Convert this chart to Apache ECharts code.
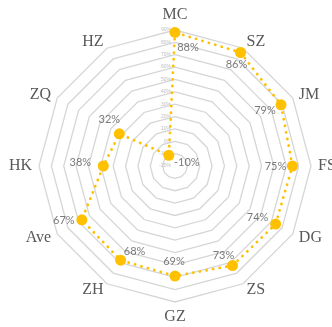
<!DOCTYPE html>
<html>
<head>
<meta charset="utf-8">
<script src="https://cdn.jsdelivr.net/npm/echarts@6/dist/echarts.min.js"></script>
<style>
  html, body { margin: 0; padding: 0; background: #ffffff; }
  #chart { width: 332px; height: 327px; }
</style>
</head>
<body>
<div id="chart"></div>
<script>
// Cities, clockwise from the top
const categories = ['MC', 'SZ', 'JM', 'FS', 'DG', 'ZS', 'GZ', 'ZH', 'Ave', 'HK', 'ZQ', 'HZ'];
// Share per city, in percent
const shares = [88, 86, 79, 75, 74, 73, 69, 68, 67, 38, 32, -10];
// Scale of the radial axis, in percent
const axisMin = -20;
const axisMax = 90;
const axisStep = 10;

// Where each value label sits relative to its point (px)
const labelOffsets = [
  [13, 15], [-4, 12], [-16, 6], [-17, 0], [-18, -7], [-9, -10],
  [-1, -15], [14, -9], [-18, 1], [-23, -4], [-10, -14], [18, 7]
];

const CENTER = [175, 166];
const RADIUS = 136;
const GOLD = '#FFC000';

// The radar lays its indicators counter-clockwise, so feed it the
// list with the first item kept on top and the rest reversed.
const toRadarOrder = arr => [arr[0]].concat(arr.slice(1).reverse());

const chart = echarts.init(document.getElementById('chart'), null, { renderer: 'canvas' });

chart.setOption({
  animation: false,
  backgroundColor: '#ffffff',
  radar: {
    center: CENTER,
    radius: RADIUS,
    startAngle: 90,
    shape: 'polygon',
    splitNumber: (axisMax - axisMin) / axisStep,
    nameGap: 7,
    indicator: toRadarOrder(categories).map(name => ({ name, min: axisMin, max: axisMax })),
    axisName: {
      color: '#595959',
      fontFamily: 'Liberation Serif',
      fontSize: 16
    },
    axisLine: { show: false },
    axisTick: { show: false },
    axisLabel: { show: false },
    splitArea: { show: false },
    splitLine: { lineStyle: { color: '#d6d6d6', width: 1.3 } }
  },
  polar: { center: CENTER, radius: RADIUS },
  angleAxis: {
    type: 'category',
    data: categories,
    boundaryGap: false,
    startAngle: 90,
    clockwise: true,
    axisLine: { show: false },
    axisTick: { show: false },
    axisLabel: { show: false },
    splitLine: { show: false }
  },
  radiusAxis: {
    type: 'value',
    min: axisMin,
    max: axisMax,
    interval: axisStep,
    axisLine: { show: false },
    axisTick: { show: false },
    splitLine: { show: false },
    axisLabel: {
      formatter: '{value}%',
      fontSize: 5,
      color: '#bdbdbd',
      fontFamily: 'Liberation Sans',
      margin: 4
    }
  },
  series: [
    {
      type: 'radar',
      symbol: 'circle',
      symbolSize: 11,
      itemStyle: { color: GOLD },
      lineStyle: { color: GOLD, width: 2.8, type: [0.1, 6.6], cap: 'round' },
      data: [{ value: toRadarOrder(shares), name: 'share' }]
    },
    {
      type: 'scatter',
      coordinateSystem: 'polar',
      symbolSize: 0,
      silent: true,
      data: shares.map((v, i) => ({
        value: [v, categories[i]],
        label: {
          show: true,
          position: 'inside',
          offset: labelOffsets[i],
          formatter: v + '%',
          color: '#595959',
          fontFamily: 'Lato',
          fontSize: 11
        }
      }))
    }
  ]
});
</script>
</body>
</html>
